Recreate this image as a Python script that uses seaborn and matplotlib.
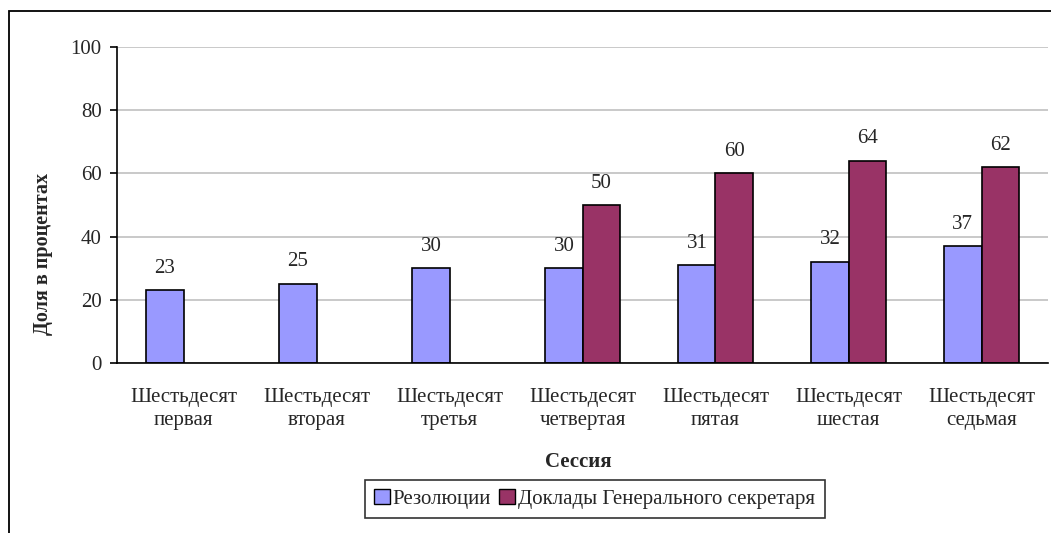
import numpy as np
import pandas as pd
import matplotlib
matplotlib.use("Agg")
import matplotlib.pyplot as plt
import matplotlib.patches as mpatches
import seaborn as sns

# chart data
sessions = [
    "Шестьдесят\nпервая",
    "Шестьдесят\nвторая",
    "Шестьдесят\nтретья",
    "Шестьдесят\nчетвертая",
    "Шестьдесят\nпятая",
    "Шестьдесят\nшестая",
    "Шестьдесят\nседьмая",
]
resolutions = [23, 25, 30, 30, 31, 32, 37]
sg_reports = [np.nan, np.nan, np.nan, 50, 60, 64, 62]
series_names = ["Резолюции", "Доклады Генерального секретаря"]
colors = ["#9999FF", "#993366"]

FONT = 15


def build_frame():
    df = pd.DataFrame({
        "session": sessions * 2,
        "series": [series_names[0]] * len(sessions) + [series_names[1]] * len(sessions),
        "value": resolutions + sg_reports,
    })
    return df.dropna()


def main():
    sns.set_style("white")
    plt.rcParams["font.family"] = ["Liberation Serif", "DejaVu Serif"]

    df = build_frame()

    fig = plt.figure(figsize=(10.51, 5.33), dpi=100)
    ax = fig.add_axes([117 / 1051, 1 - 363 / 533, 931 / 1051, 316 / 533])

    sns.barplot(
        data=df,
        x="session",
        y="value",
        hue="series",
        order=sessions,
        hue_order=series_names,
        palette=colors,
        width=0.56,
        gap=0,
        saturation=1,
        edgecolor="black",
        linewidth=1.2,
        errorbar=None,
        ax=ax,
    )

    # value labels above bars
    for cont in ax.containers:
        ax.bar_label(cont, fmt="%.0f", padding=9, fontsize=FONT)

    ax.set_ylim(0, 100)
    ax.set_xlim(-0.5, len(sessions) - 0.5)
    ax.set_yticks(range(0, 101, 20))
    ax.yaxis.grid(True, color="#C0C0C0", linewidth=1.2)
    ax.set_axisbelow(True)

    for side in ["top", "right"]:
        ax.spines[side].set_visible(False)
    for side in ["left", "bottom"]:
        ax.spines[side].set_color("black")
        ax.spines[side].set_linewidth(1.2)

    # category ticks sit between groups
    ax.set_xticks(np.arange(-0.5, len(sessions)), minor=True)
    ax.tick_params(axis="x", which="major", length=0, pad=18, labelsize=FONT)
    ax.tick_params(axis="x", which="minor", length=5, width=1.2, color="black", direction="out")
    ax.tick_params(axis="y", length=5, width=1.2, color="black", direction="out",
                   left=True, labelsize=FONT, pad=6)
    for lbl in ax.get_xticklabels():
        lbl.set_linespacing(1.3)

    ax.set_xlabel("Сессия", fontsize=FONT, fontweight="bold")
    ax.xaxis.set_label_coords(0.495, -0.283)
    ax.set_ylabel("Доля в процентах", fontsize=FONT - 0.5, fontweight="bold")
    ax.yaxis.set_label_coords(-0.069, 0.345)

    leg = ax.legend(
        loc="center",
        bbox_to_anchor=(0.513, -0.43),
        ncol=2,
        frameon=True,
        fancybox=False,
        fontsize=FONT,
        handlelength=0.75,
        handleheight=0.75,
        handletextpad=0.15,
        columnspacing=0.4,
        borderpad=0.45,
        borderaxespad=0,
        title=None,
    )
    leg.get_frame().set_edgecolor("black")
    leg.get_frame().set_linewidth(1.2)
    for h in leg.legend_handles:
        h.set_edgecolor("black")
        h.set_linewidth(1.0)

    # outer chart border (extends past right/bottom edges)
    border = mpatches.Rectangle(
        (9 / 1051, -0.2), 1.2, 1 - 11 / 533 + 0.2,
        transform=fig.transFigure, fill=False, edgecolor="black",
        linewidth=1.3, clip_on=False,
    )
    fig.patches.append(border)

    fig.savefig("out.png", dpi=100)
    plt.close(fig)


if __name__ == "__main__":
    main()
